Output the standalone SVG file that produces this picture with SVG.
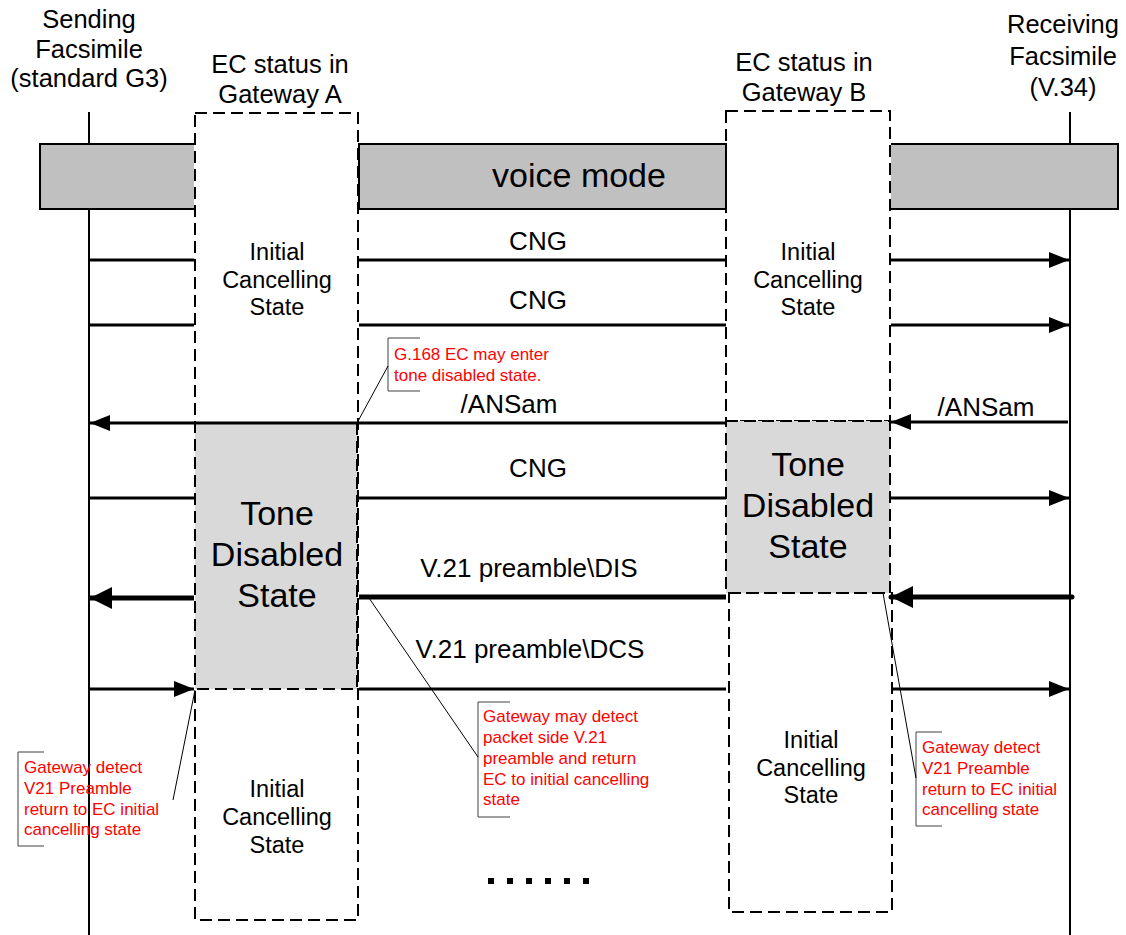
<svg xmlns="http://www.w3.org/2000/svg" width="1126" height="935" viewBox="0 0 1126 935">
<style>
text{font-family:"Liberation Sans",Arial,sans-serif;fill:#000}
.hdr{font-size:25.5px;text-anchor:middle}
.lbl{font-size:26px;text-anchor:middle}
.st{font-size:23.5px;text-anchor:middle}
.tone{font-size:34px;text-anchor:middle}
.note{font-size:17px;fill:#ff0000}
.life{stroke:#000;stroke-width:2;fill:none}
.band{fill:#c0c0c0;stroke:#000;stroke-width:2}
.dbox{fill:none;stroke:#000;stroke-width:2;stroke-dasharray:12 6}
.tbox{fill:#d9d9d9;stroke:#000;stroke-width:2;stroke-dasharray:12 6}
.msg{stroke:#000;stroke-width:3;fill:none}
.thick{stroke:#000;stroke-width:5;fill:none}
.brk{stroke:#404040;stroke-width:1;fill:none}
.lead{stroke:#000;stroke-width:1;fill:none}
</style>
<defs>
<marker id="ah" markerUnits="userSpaceOnUse" markerWidth="20" markerHeight="16" viewBox="0 0 20 16" refX="20" refY="8" orient="auto">
<path d="M0,0 L20,8 L0,16 Z" fill="#000"/>
</marker>
<marker id="ahb" markerUnits="userSpaceOnUse" markerWidth="22" markerHeight="22" viewBox="0 0 22 22" refX="22" refY="11" orient="auto">
<path d="M0,0 L22,11 L0,22 Z" fill="#000"/>
</marker>
</defs>
<rect width="1126" height="935" fill="#fff"/>

<g id="sending-fax">
<line class="life" x1="89" y1="112" x2="89" y2="935"/>
<text class="hdr" x="89" y="28">Sending</text>
<text class="hdr" x="89" y="58">Facsimile</text>
<text class="hdr" x="89" y="87">(standard G3)</text>
</g>
<g id="receiving-fax">
<line class="life" x1="1070" y1="112" x2="1070" y2="935"/>
<text class="hdr" x="1063" y="33">Receiving</text>
<text class="hdr" x="1063" y="65">Facsimile</text>
<text class="hdr" x="1063" y="96">(V.34)</text>
</g>

<g id="voice-mode">
<path class="band" d="M194,144 H40 V209 H194"/>
<rect class="band" x="359" y="144" width="367" height="65"/>
<path class="band" d="M891,144 H1118 V209 H891"/>
<text x="579" y="187" style="font-size:34px;text-anchor:middle">voice mode</text>
</g>

<g id="gateway-a">
<text class="hdr" x="280" y="73">EC status in</text>
<text class="hdr" x="280" y="103">Gateway A</text>
<rect class="dbox" x="195" y="113" width="163" height="807"/>
<text class="st" x="277" y="260">Initial</text>
<text class="st" x="277" y="288">Cancelling</text>
<text class="st" x="277" y="315">State</text>
<rect class="tbox" x="195" y="423" width="162" height="266"/>
<text class="tone" x="277" y="525">Tone</text>
<text class="tone" x="277" y="566">Disabled</text>
<text class="tone" x="277" y="607">State</text>
<text class="st" x="277" y="797">Initial</text>
<text class="st" x="277" y="825">Cancelling</text>
<text class="st" x="277" y="853">State</text>
</g>

<g id="gateway-b">
<text class="hdr" x="804" y="71">EC status in</text>
<text class="hdr" x="804" y="101">Gateway B</text>
<rect class="dbox" x="726" y="111" width="164" height="310"/>
<text class="st" x="808" y="260">Initial</text>
<text class="st" x="808" y="288">Cancelling</text>
<text class="st" x="808" y="315">State</text>
<rect class="tbox" x="726" y="421" width="164" height="172"/>
<text class="tone" x="808" y="476">Tone</text>
<text class="tone" x="808" y="517">Disabled</text>
<text class="tone" x="808" y="558">State</text>
<rect class="dbox" x="729" y="593" width="163" height="319"/>
<text class="st" x="811" y="748">Initial</text>
<text class="st" x="811" y="776">Cancelling</text>
<text class="st" x="811" y="803">State</text>
</g>

<g id="connectors">
<line class="msg" x1="89" y1="260" x2="194" y2="260"/>
<line class="msg" x1="359" y1="260" x2="726" y2="260"/>
<line class="msg" x1="891" y1="260" x2="1069" y2="260" marker-end="url(#ah)"/>
<text class="lbl" x="538" y="250">CNG</text>
<line class="msg" x1="89" y1="325" x2="194" y2="325"/>
<line class="msg" x1="359" y1="325" x2="726" y2="325"/>
<line class="msg" x1="891" y1="325" x2="1069" y2="325" marker-end="url(#ah)"/>
<text class="lbl" x="538" y="309">CNG</text>
<line class="msg" x1="726" y1="423" x2="90" y2="423" marker-end="url(#ah)"/>
<line class="msg" x1="1068" y1="422" x2="891" y2="422" marker-end="url(#ah)"/>
<text class="lbl" x="509" y="413">/ANSam</text>
<text class="lbl" x="986" y="416">/ANSam</text>
<line class="msg" x1="89" y1="498" x2="194" y2="498"/>
<line class="msg" x1="359" y1="498" x2="726" y2="498"/>
<line class="msg" x1="891" y1="498" x2="1069" y2="498" marker-end="url(#ah)"/>
<text class="lbl" x="538" y="477">CNG</text>
<line class="thick" x1="1072" y1="597" x2="891" y2="597" stroke-linecap="round" marker-end="url(#ahb)"/>
<line class="thick" x1="726" y1="597" x2="359" y2="597"/>
<line class="thick" x1="194" y1="598" x2="90" y2="598" marker-end="url(#ahb)"/>
<text class="lbl" x="529" y="577">V.21 preamble\DIS</text>
<line class="msg" x1="89" y1="689" x2="194" y2="689" marker-end="url(#ah)"/>
<line class="msg" x1="359" y1="689" x2="726" y2="689"/>
<line class="msg" x1="891" y1="689" x2="1069" y2="689" marker-end="url(#ah)"/>
<text class="lbl" x="530" y="658">V.21 preamble\DCS</text>
<line x1="488" y1="881" x2="594" y2="881" stroke="#000" stroke-width="6" stroke-dasharray="6 13"/>
</g>

<g id="note-g168">
<path class="brk" d="M420,338 H388 V391 H420"/>
<line class="lead" x1="388" y1="366" x2="357" y2="423"/>
<text class="note" x="394" y="360">G.168 EC may enter</text>
<text class="note" x="394" y="381">tone disabled state.</text>
</g>

<g id="note-left">
<path class="brk" d="M44,752 H18 V846 H44"/>
<line class="lead" x1="173" y1="800" x2="195" y2="690"/>
<text class="note" x="24" y="773">Gateway detect</text>
<text class="note" x="24" y="794">V21 Preamble</text>
<text class="note" x="24" y="815">return to EC initial</text>
<text class="note" x="24" y="835">cancelling state</text>
</g>

<g id="note-middle">
<path class="brk" d="M510,702 H478 V817 H510"/>
<line class="lead" x1="478" y1="757" x2="369" y2="598"/>
<text class="note" x="483" y="722">Gateway may detect</text>
<text class="note" x="483" y="743">packet side V.21</text>
<text class="note" x="483" y="764">preamble and return</text>
<text class="note" x="483" y="785">EC to initial cancelling</text>
<text class="note" x="483" y="805">state</text>
</g>

<g id="note-right">
<path class="brk" d="M942,732 H916 V826 H942"/>
<line class="lead" x1="916" y1="778" x2="883" y2="593"/>
<text class="note" x="922" y="753">Gateway detect</text>
<text class="note" x="922" y="774">V21 Preamble</text>
<text class="note" x="922" y="795">return to EC initial</text>
<text class="note" x="922" y="815">cancelling state</text>
</g>
</svg>
